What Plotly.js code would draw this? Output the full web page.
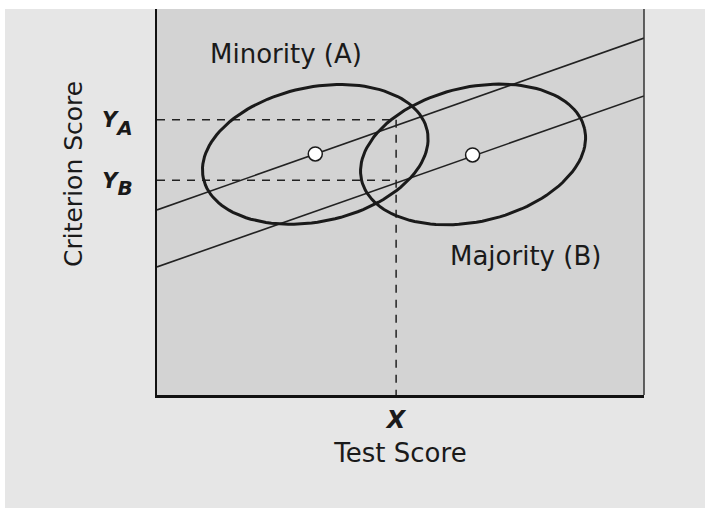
<!DOCTYPE html>
<html>
<head>
<meta charset="utf-8">
<script src="https://cdn.plot.ly/plotly-3.0.1.min.js"></script>
<style>
  html, body { margin: 0; padding: 0; background: #e6e6e6; overflow: hidden; }
  #chart { width: 705px; height: 508px; }
</style>
</head>
<body>
<div id="chart"></div>
<script>
// regression lines (test score -> criterion score), read at the two plot edges
const lineX = [0, 100];
const lineA = [38.0, 73.3];   // minority (A)
const lineB = [26.3, 61.4];   // majority (B)

// group means
const meanX = [32.5, 64.8];
const meanY = [49.5, 49.3];

// score ellipses: centre, half axes, tilt (deg)
const ellCx = [32.5, 64.9];
const ellCy = [49.4, 49.4];
const ellA = [23.5, 23.5];
const ellB = [13.8, 13.8];
const ellTilt = [12, 13];

// cut score and predicted criterion values
const cutX = 49.1;
const yA = 56.5;
const yB = 44.1;

const font = 'DejaVu Sans, Verdana, sans-serif';
const ink = '#1a1a1a';

function ellipse(i) {
  const xs = [], ys = [];
  const t = ellTilt[i] * Math.PI / 180;
  for (let k = 0; k <= 120; k++) {
    const u = 2 * Math.PI * k / 120;
    const px = ellA[i] * Math.cos(u), py = ellB[i] * Math.sin(u);
    xs.push(ellCx[i] + px * Math.cos(t) - py * Math.sin(t));
    ys.push(ellCy[i] + px * Math.sin(t) + py * Math.cos(t));
  }
  return { x: xs, y: ys, mode: 'lines', line: { color: ink, width: 3 }, hoverinfo: 'skip' };
}

const dash = { color: '#222', width: 1.5, dash: '8px,7px' };

const traces = [
  { x: [0, cutX], y: [yA, yA], mode: 'lines', line: dash },
  { x: [0, cutX], y: [yB, yB], mode: 'lines', line: dash },
  { x: [cutX, cutX], y: [yA, 0], mode: 'lines', line: dash },
  { x: lineX, y: lineA, mode: 'lines', line: { color: '#222', width: 1.6 } },
  { x: lineX, y: lineB, mode: 'lines', line: { color: '#222', width: 1.6 } },
  ellipse(0),
  ellipse(1),
  {
    x: meanX, y: meanY, mode: 'markers',
    marker: { size: 14, color: '#ffffff', line: { color: ink, width: 1.5 } }
  }
];

const sub = s => '<b><i>Y<sub><sub><span style="font-size:20px">' + s + '</span></sub></sub></i></b>';

const layout = {
  width: 705,
  height: 508,
  showlegend: false,
  margin: { l: 157, r: 61, t: 9, b: 113 },
  paper_bgcolor: '#e6e6e6',
  plot_bgcolor: '#d3d3d3',
  font: { family: font, color: ink },
  xaxis: {
    range: [0, 100],
    showgrid: false, zeroline: false,
    showline: true, linecolor: '#111', linewidth: 2.5,
    tickvals: [cutX],
    ticktext: ['<b><i>X</i></b>'],
    tickfont: { size: 24, family: font, color: ink },
    ticks: 'outside', ticklen: 2, tickcolor: 'rgba(0,0,0,0)',
    title: { text: 'Test Score', font: { size: 26, family: font, color: ink }, standoff: 11 },
    fixedrange: true
  },
  yaxis: {
    range: [0, 79.26],
    showgrid: false, zeroline: false,
    showline: true, linecolor: '#111', linewidth: 2,
    tickvals: [yA, yB],
    ticktext: [sub('A'), sub('B')],
    tickfont: { size: 21, family: font, color: ink },
    ticks: 'outside', ticklen: 18, tickcolor: 'rgba(0,0,0,0)',
    fixedrange: true
  },
  shapes: [
    // white scan margins
    { type: 'rect', xref: 'paper', yref: 'paper', x0: -157 / 487, x1: 548 / 487, y0: 1, y1: 1 + 9 / 386,
      fillcolor: '#ffffff', line: { width: 0 }, layer: 'below' },
    { type: 'rect', xref: 'paper', yref: 'paper', x0: -157 / 487, x1: -152 / 487, y0: -113 / 386, y1: 1,
      fillcolor: '#ffffff', line: { width: 0 }, layer: 'below' },
    // right frame edge
    { type: 'line', xref: 'paper', yref: 'paper', x0: 1, x1: 1, y0: 0, y1: 1,
      line: { color: '#333', width: 1.5 } }
  ],
  annotations: [
    { x: 26.5, y: 70.1, text: 'Minority (A)', showarrow: false, font: { size: 26, family: font, color: ink } },
    { x: 75.7, y: 28.5, text: 'Majority (B)', showarrow: false, font: { size: 26, family: font, color: ink } },
    // y axis title sits above the plot centre in the source
    { xref: 'paper', yref: 'paper', x: -84 / 487, y: (395 - 174) / 386, xanchor: 'center', yanchor: 'middle',
      text: 'Criterion Score', textangle: -90, showarrow: false, font: { size: 25, family: font, color: ink } }
  ]
};

Plotly.newPlot('chart', traces, layout, { displayModeBar: false, staticPlot: true });
</script>
</body>
</html>
